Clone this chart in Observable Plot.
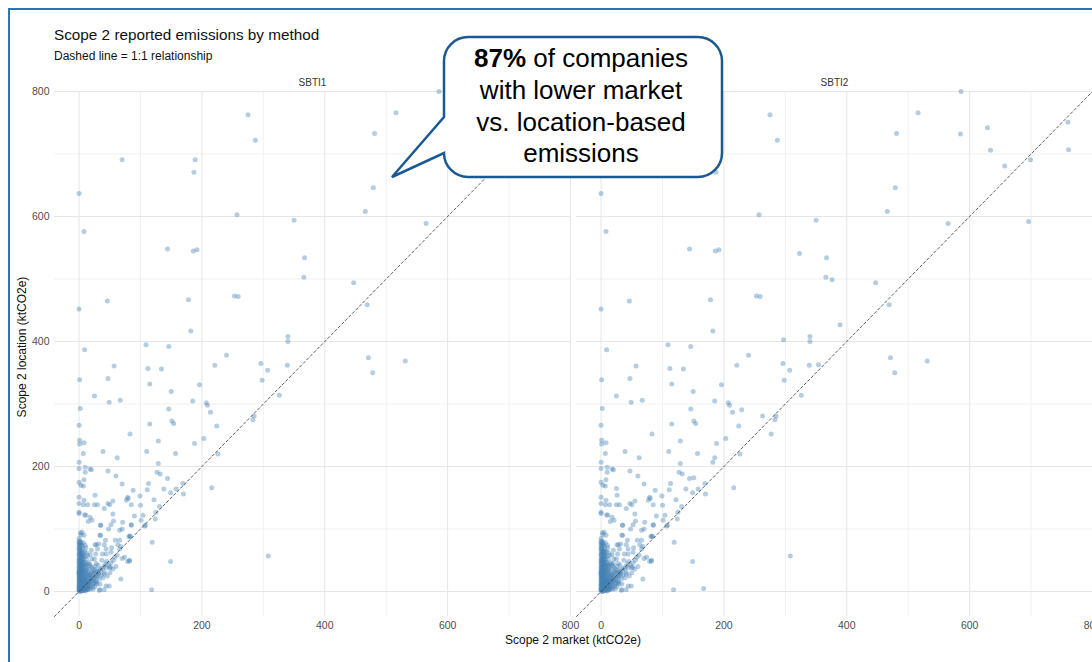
<!DOCTYPE html>
<html><head><meta charset="utf-8">
<script src="https://cdn.jsdelivr.net/npm/d3@7"></script>
<script src="https://cdn.jsdelivr.net/npm/@observablehq/plot@0.6"></script>
<style>
html,body{margin:0;padding:0;background:#fff;overflow:hidden;}
#wrap{position:relative;width:1092px;height:662px;overflow:hidden;font-family:"Liberation Sans",Arial,sans-serif;}
#chart{position:absolute;left:0;top:0;}
#overlay{position:absolute;left:0;top:0;pointer-events:none;}
#frame{position:absolute;left:8px;top:8px;width:1200px;height:800px;border:2px solid #2e75b6;box-sizing:border-box;pointer-events:none;}
</style></head><body>
<div id="wrap">
<div id="chart"></div>
<svg id="overlay" width="1092" height="662" font-family="Liberation Sans, Arial, sans-serif">
  <text x="54" y="40" font-size="15.3" fill="#111">Scope 2 reported emissions by method</text>
  <text x="54" y="59.5" font-size="12" fill="#111">Dashed line = 1:1 relationship</text>
  <text transform="translate(26,347) rotate(-90)" text-anchor="middle" font-size="12" fill="#111">Scope 2 location (ktCO2e)</text>
  <text x="573" y="644" text-anchor="middle" font-size="12" fill="#111">Scope 2 market (ktCO2e)</text>
  <path d="M468,37 H698 A24,24 0 0 1 722,61 V153 A24,24 0 0 1 698,177 H468 A24,24 0 0 1 444,153 L392,177 L444,117 V61 A24,24 0 0 1 468,37 Z" fill="#fff" stroke="#1b5994" stroke-width="2.5" stroke-linejoin="miter"/>
  <g font-size="26" text-anchor="middle" fill="#000">
    <text x="581" y="67"><tspan font-weight="bold">87%</tspan> of companies</text>
    <text x="581" y="99">with lower market</text>
    <text x="581" y="131">vs. location-based</text>
    <text x="581" y="162">emissions</text>
  </g>
</svg>
<div id="frame"></div>
</div>
<script>
// Facet panels
const panels = ["SBTI1", "SBTI2"];
// Axis ticks
const majorTicks = [0, 200, 400, 600, 800];
const minorTicks = [100, 300, 500, 700];
const axisDomain = [-40, 800];

// [market, location] pairs present in both panels
const bothPanels = [
  [275,763],[287,722],[70,691],[189,691],[187,671],[0,637],[257,603],[350,594],[8,576],[144,548],[186,545],[192,547],
  [367,534],[366,503],[0,452],[46,465],[178,467],[253,473],[259,472],[182,417],[340,408],
  [586,800],[516,766],[481,733],[479,646],[466,608],[565,589],[447,494],[469,459],[471,374],[478,350],[531,369],
  [340,400],[109,395],[146,392],[9,387],[240,378],[296,365],[221,362],[57,361],[112,357],[134,356],[307,354],[339,362],
  [1,339],[47,341],[298,338],[115,332],[196,331],[150,320],[25,313],[326,314],[49,303],[67,306],[185,305],[207,302],
  [209,298],[146,292],[2,293],[214,287],[283,275],[285,281],[151,273],[154,269],[115,268],[0,266],[224,265],[83,252],
  [203,245],[1,242],[8,238],[1,236],[129,241],[188,237],[39,224],[110,224],[62,214],[157,221],[226,220],[0,207],[7,221],
  [129,205],[0,197],[10,199],[18,196],[20,195],[10,191],[47,193],[127,191],[132,188],[60,185],[8,179],[0,175],[3,170],
  [7,169],[144,181],[70,172],[113,173],[158,164],[169,173],[216,166],[170,156],[149,158],[138,164],[88,162],[99,153],
  [26,154],[0,151],[79,151],[111,163],[8,146],[0,141],[7,139],[14,139],[25,139],[30,139],[47,141],[50,139],[55,145],
  [77,146],[80,149],[100,138],[85,139],[122,147],[131,136],[41,133],[0,127],[0,125],[9,123],[11,122],[18,119],[55,124],
  [90,121],[104,122],[125,127],[21,114],[56,113],[101,114],[108,106],[107,105],[124,116],[85,107],[35,106],[66,98],
  [70,100],[48,100],[2,94],[5,95],[3,91],[81,88],[83,89],[34,90],[119,79],[43,82],[59,82],[26,75],[32,76],[68,72],
  [53,70],[70,53],[79,48],[82,49],[149,48],[50,38],[308,57],[68,20],[44,9],[49,9],[34,3],[118,3],
  [15,112],[35,106],[52,107],[85,106],[71,111],[8,90],[35,90],[83,88],[3,79],[7,78],[10,74],[28,75],[41,75],[44,68],
  [30,68],[63,75],[66,68],[38,60],[44,60],[52,63],[66,82],[74,55],[51,39],[41,28],[28,15],[20,18],[33,2],[41,3],[82,50],
  [0,2],[1,4],[0,6],[2,8],[0,10],[1,12],[3,14],[0,16],[2,18],[1,20],[0,22],[3,24],[1,26],[0,28],[2,30],[0,32],[1,34],
  [3,36],[0,38],[2,40],[1,42],[0,45],[2,47],[0,50],[1,53],[3,55],[0,58],[2,61],[0,64],[1,67],[0,70],[2,73],[0,77],[1,81],
  [0,85],[2,0],[0,1],[1,3],[3,5],[2,11],[1,15],[3,19],[2,25],[0,29],[3,33],[1,39],[3,44],[2,52],[1,60],[3,66],[2,78],
  [4,1],[5,3],[6,6],[4,9],[7,11],[5,14],[6,17],[4,20],[8,22],[5,25],[7,28],[4,31],[6,35],[5,38],[8,41],[4,45],[6,49],
  [5,53],[7,58],[4,63],[6,68],[5,72],[8,5],[7,2],[6,13],[8,16],[4,27],[7,33],[5,43],[8,47],[6,56],[4,75],
  [9,2],[11,5],[10,8],[12,11],[13,14],[9,17],[11,19],[14,22],[10,25],[12,29],[9,33],[13,37],[11,42],[10,47],[12,52],
  [14,58],[9,64],[11,70],[13,3],[12,7],[14,16],[10,21],[13,27],[11,35],[14,44],[12,62],
  [15,3],[17,6],[19,10],[16,14],[21,18],[18,21],[20,24],[16,28],[22,32],[17,36],[19,41],[16,46],[21,52],[18,59],[20,66],
  [22,12],[15,9],[19,16],[17,26],[21,38],
  [23,4],[26,8],[24,13],[28,17],[25,22],[27,26],[29,30],[24,35],[26,40],[28,45],[25,52],[27,60],[30,24],[29,12],[23,28],
  [32,30],[35,34],[38,37],[40,40],[43,44],[36,26],[33,20],[41,31],[44,38],[34,12],[39,22],[45,48],[31,42],[37,50],
  [48,42],[52,46],[56,50],[50,30],[58,55],[46,25],[55,36],[62,58],[60,40],
  [0,3],[1,5],[0,7],[1,9],[0,11],[2,13],[0,14],[1,17],[0,19],[2,21],[0,23],[1,25],[0,27],[2,29],[0,31],[1,33],
  [0,35],[2,37],[0,40],[1,44],[0,47],[2,49],[0,52],[1,56],[0,60],[2,65],[0,68],[1,72],[0,75],[0,80],
  [3,1],[4,4],[3,7],[5,8],[4,12],[3,16],[5,18],[4,22],[3,27],[5,30],[4,34],[3,39],[5,41],[4,48],[3,51],[5,57],[4,60],
  [6,2],[7,5],[6,9],[8,12],[7,15],[6,20],[8,24],[7,30],[6,38],[8,44],[7,52],[6,62],
  [10,1],[11,3],[10,6],[12,9],[11,13],[10,15],[12,18],[11,23],[10,30],[12,34],[11,40],[10,56],
  [14,5],[16,8],[15,12],[17,16],[14,19],[18,25],[15,31],[17,43],[20,30],[19,4],[22,8],[21,22],[24,20],[26,15],
  [28,24],[30,32],[32,28],[34,36],[27,35],[25,30]
];

// [market, location] pairs only in SBTI2
const sbti2Only = [
  [323,541],[376,499],[297,403],[585,732],[629,742],[634,706],[760,751],[761,707],[657,681],[699,691],[696,592],
  [389,427],[354,363],[229,291],[263,281],[277,252],[185,214],[182,207],[151,182],[25,165],[167,5],
  [2,20],[5,35],[8,10],[12,40],[16,22],[20,45],[6,64],[3,48]
];

const rows = bothPanels.flatMap(([m, l]) => panels.map(p => ({panel: p, market: m, location: l})))
  .concat(sbti2Only.map(([m, l]) => ({panel: "SBTI2", market: m, location: l})));

const chart = Plot.plot({
  width: 1092,
  height: 662,
  marginLeft: 54,
  marginRight: 0,
  marginTop: 91,
  marginBottom: 46,
  style: {fontFamily: "Liberation Sans, Arial, sans-serif", background: "transparent", overflow: "visible"},
  x: {domain: axisDomain, label: null},
  y: {domain: axisDomain, label: null},
  fx: {domain: panels, paddingInner: 0.0116, paddingOuter: 0, label: null},
  marks: [
    Plot.gridX({ticks: minorTicks, stroke: "#f1f1f1", strokeOpacity: 1, strokeWidth: 1}),
    Plot.gridY({ticks: minorTicks, stroke: "#f1f1f1", strokeOpacity: 1, strokeWidth: 1}),
    Plot.gridX({ticks: majorTicks, stroke: "#e6e6e6", strokeOpacity: 1, strokeWidth: 1}),
    Plot.gridY({ticks: majorTicks, stroke: "#e6e6e6", strokeOpacity: 1, strokeWidth: 1}),
    Plot.axisX({ticks: majorTicks, tickSize: 0, tickPadding: 5, label: null, fontSize: 10.5, color: "#4d4d4d"}),
    Plot.axisY({ticks: majorTicks, tickSize: 0, tickPadding: 5, label: null, fontSize: 10.5, color: "#4d4d4d"}),
    Plot.axisFx({anchor: "top", tickSize: 0, tickPadding: 6, label: null, fontSize: 10, color: "#333"}),
    Plot.dot(rows, {x: "market", y: "location", fx: "panel", r: 2.5, fill: "#4682b4", fillOpacity: 0.4}),
    Plot.line(axisDomain, {x: d => d, y: d => d, stroke: "#333", strokeWidth: 0.8, strokeDasharray: "2.5,2.5"})
  ]
});
document.getElementById("chart").appendChild(chart);
</script>
</body></html>
